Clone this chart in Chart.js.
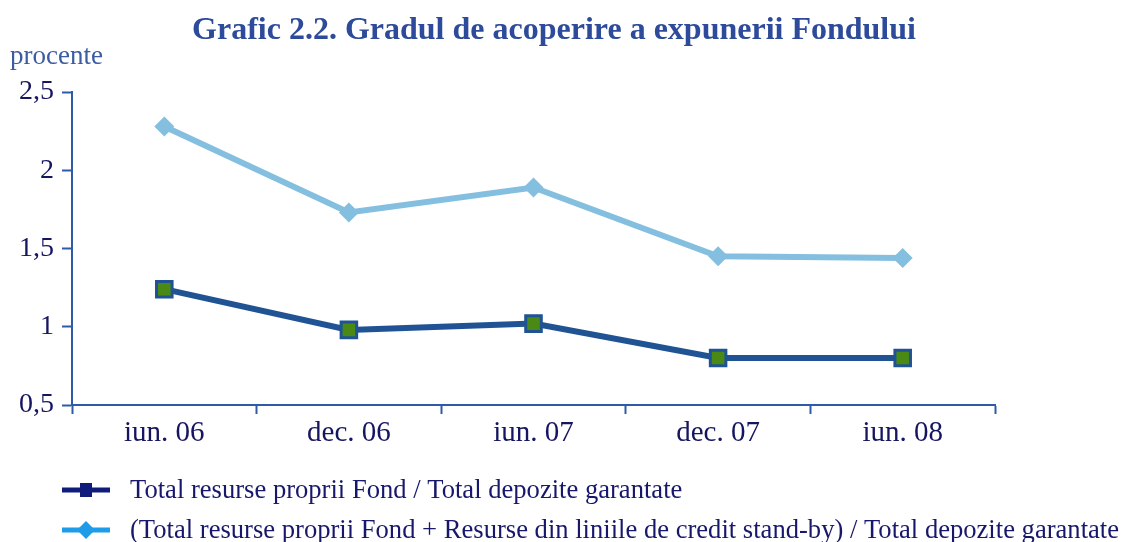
<!DOCTYPE html>
<html lang="ro">
  <head>
    <meta charset="UTF-8" />
    <script src="https://cdn.jsdelivr.net/npm/chart.js@4.4.1/dist/chart.umd.min.js"></script>
    <title>Grafic 2.2</title>
    <style>
      html, body { margin: 0; padding: 0; background: #ffffff; }
      #wrap { width: 1126px; height: 542px; position: relative; }
    </style>
  </head>
  <body>
    <div id="wrap">
      <canvas id="myChart" width="1126" height="542"></canvas>
    </div>
    <script>
      // date
      const labels = ["iun. 06", "dec. 06", "iun. 07", "dec. 07", "iun. 08"];
      const resurseProprii = [1.24, 0.98, 1.02, 0.8, 0.8];
      const resurseStandBy = [2.28, 1.73, 1.89, 1.45, 1.44];
      const yTicks = [0.5, 1, 1.5, 2, 2.5];

      const titlu = "Grafic 2.2. Gradul de acoperire a expunerii Fondului";
      const unitate = "procente";
      const serif = "'Liberation Serif', 'DejaVu Serif', serif";

      // legenda desenata de mana: linie + marker
      function legendIcon(ctx, x, y, lineColor, style) {
        ctx.save();
        ctx.strokeStyle = lineColor;
        ctx.fillStyle = lineColor;
        ctx.lineWidth = 5;
        ctx.beginPath();
        ctx.moveTo(x, y);
        ctx.lineTo(x + 48, y);
        ctx.stroke();
        const cx = x + 24;
        if (style === "rect") {
          ctx.fillRect(cx - 6, y - 7, 12, 14);
        } else {
          ctx.beginPath();
          ctx.moveTo(cx, y - 9);
          ctx.lineTo(cx + 9, y);
          ctx.lineTo(cx, y + 9);
          ctx.lineTo(cx - 9, y);
          ctx.closePath();
          ctx.fill();
        }
        ctx.restore();
      }

      const extras = {
        id: "extras",
        afterDraw(chart) {
          const ctx = chart.ctx;
          ctx.save();
          ctx.textBaseline = "middle";
          ctx.textAlign = "center";
          ctx.fillStyle = "#2d4b9a";
          ctx.font = "bold 32px " + serif;
          ctx.fillText(titlu, 554, 31);

          ctx.textAlign = "left";
          ctx.fillStyle = "#3b5ba3";
          ctx.font = "27px " + serif;
          ctx.fillText(unitate, 10, 57);

          const ds = chart.data.datasets;
          ctx.fillStyle = "#17176b";
          ctx.font = "26.6px " + serif;
          legendIcon(ctx, 62, 490, "#101c7c", "rect");
          ctx.fillText(ds[0].label, 130, 491);
          legendIcon(ctx, 62, 530, "#1e9ce8", "rectRot");
          ctx.fillText(ds[1].label, 130, 531);
          ctx.restore();
        },
      };

      const ctx = document.getElementById("myChart");
      new Chart(ctx, {
        type: "line",
        data: {
          labels: labels,
          datasets: [
            {
              label: "Total resurse proprii Fond / Total depozite garantate",
              data: resurseProprii,
              borderColor: "#1f5393",
              backgroundColor: "#4a8a14",
              borderWidth: 6,
              pointStyle: "rect",
              pointRadius: 11,
              pointBorderWidth: 3,
              pointBorderColor: "#1f5393",
              tension: 0,
            },
            {
              label: "(Total resurse proprii Fond + Resurse din liniile de credit stand-by) / Total depozite garantate",
              data: resurseStandBy,
              borderColor: "#84bfe0",
              backgroundColor: "#84bfe0",
              borderWidth: 6,
              pointStyle: "rectRot",
              pointRadius: 10,
              pointBorderWidth: 0,
              tension: 0,
            },
          ],
        },
        options: {
          responsive: false,
          animation: false,
          layout: { padding: { top: 92, left: 0, right: 131, bottom: 0 } },
          plugins: {
            legend: { display: false },
            title: { display: false },
            tooltip: { enabled: false },
          },
          scales: {
            x: {
              offset: true,
              afterFit(scale) { scale.height = 137; },
              grid: {
                offset: true,
                drawOnChartArea: false,
                drawTicks: true,
                tickLength: 9,
                tickWidth: 2,
                color: "#2e5ba8",
              },
              border: { color: "#2e5ba8", width: 2 },
              ticks: {
                color: "#151560",
                font: { family: serif, size: 29 },
                padding: 2,
              },
            },
            y: {
              min: 0.5,
              max: 2.5,
              afterFit(scale) { scale.width = 72; },
              afterBuildTicks(scale) {
                scale.ticks = yTicks.map((v) => ({ value: v }));
              },
              grid: {
                drawOnChartArea: false,
                tickLength: 10,
                tickWidth: 2,
                color: "#2e5ba8",
              },
              border: { color: "#2e5ba8", width: 2 },
              ticks: {
                color: "#151560",
                font: { family: serif, size: 28 },
                padding: 8,
                callback: (v) => String(v).replace(".", ","),
              },
            },
          },
        },
        plugins: [extras],
      });
    </script>
  </body>
</html>
